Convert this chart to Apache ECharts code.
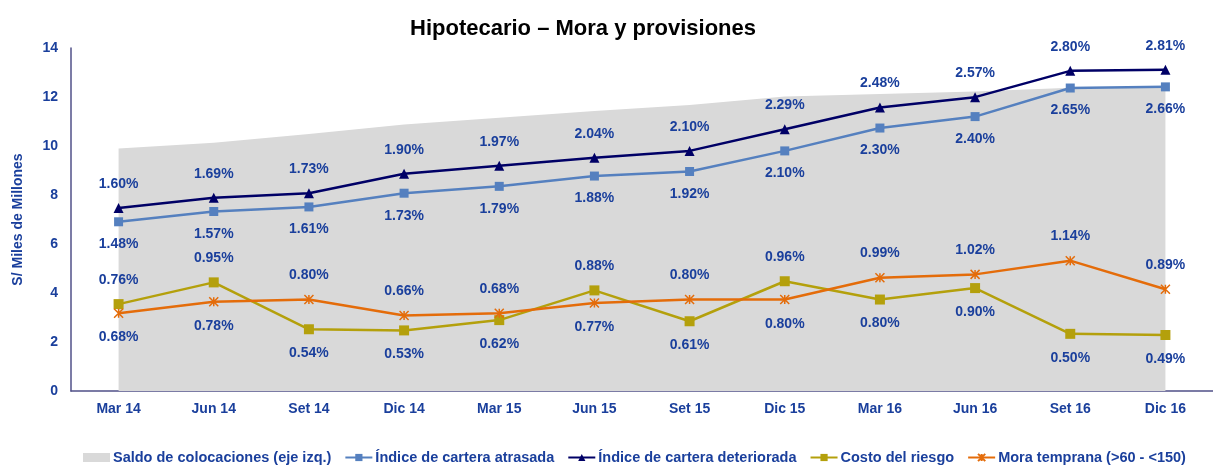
<!DOCTYPE html>
<html>
<head>
<meta charset="utf-8">
<script src="https://cdn.jsdelivr.net/npm/echarts@6/dist/echarts.min.js"></script>
<style>
  html, body { margin: 0; padding: 0; background: #fff; }
  #chart { width: 1213px; height: 466px; }
</style>
</head>
<body>
<div id="chart"></div>
<script>
var categories = ['Mar 14', 'Jun 14', 'Set 14', 'Dic 14', 'Mar 15', 'Jun 15', 'Set 15', 'Dic 15', 'Mar 16', 'Jun 16', 'Set 16', 'Dic 16'];
// S/ miles de millones (eje izq.)
var saldo = [9.9, 10.13, 10.49, 10.88, 11.15, 11.43, 11.67, 12.02, 12.12, 12.22, 12.38, 12.38];
// ratios en %
var atrasada = [1.48, 1.57, 1.61, 1.73, 1.79, 1.88, 1.92, 2.10, 2.30, 2.40, 2.65, 2.66];
var deteriorada = [1.60, 1.69, 1.73, 1.90, 1.97, 2.04, 2.10, 2.29, 2.48, 2.57, 2.80, 2.81];
var costo = [0.76, 0.95, 0.54, 0.53, 0.62, 0.88, 0.61, 0.96, 0.80, 0.90, 0.50, 0.49];
var mora = [0.68, 0.78, 0.80, 0.66, 0.68, 0.77, 0.80, 0.80, 0.99, 1.02, 1.14, 0.89];
var yTicks = [0, 2, 4, 6, 8, 10, 12, 14];

var txt = '#1a3f9c';
var font = 'Liberation Sans, Arial, sans-serif';

function pct(p) { return p.value.toFixed(2) + '%'; }

// el mayor de los dos lleva la etiqueta arriba, el menor abajo
function pairData(vals, other) {
  return vals.map(function (v, i) {
    return { value: v, label: { position: v >= other[i] ? 'top' : 'bottom' } };
  });
}

var labelBase = {
  show: true,
  color: txt,
  fontFamily: font,
  fontWeight: 'bold',
  fontSize: 14,
  formatter: pct
};

(function () {
  var myChart = echarts.init(document.getElementById('chart'));

  var option = {
    animation: false,
    title: {
      text: 'Hipotecario – Mora y provisiones',
      left: 578,
      textAlign: 'center',
      top: 13,
      textStyle: { color: '#000', fontFamily: font, fontWeight: 'bold', fontSize: 22 }
    },
    legend: {
      top: 445,
      left: 78,
      itemWidth: 27,
      itemHeight: 9,
      itemGap: 13,
      textStyle: { color: txt, fontFamily: font, fontWeight: 'bold', fontSize: 14.5, padding: [0, 0, 0, -2] },
      data: [
        { name: 'Saldo de colocaciones (eje izq.)', icon: 'rect' },
        'Índice de cartera atrasada',
        'Índice de cartera deteriorada',
        'Costo del riesgo',
        'Mora temprana (>60 - <150)'
      ]
    },
    grid: {
      left: 71,
      top: 48,
      width: 1150,
      bottom: 75
    },
    xAxis: {
      type: 'category',
      data: categories,
      axisTick: { show: false },
      axisLine: { lineStyle: { color: '#505088', width: 1.5 } },
      axisLabel: { color: txt, fontFamily: font, fontWeight: 'bold', fontSize: 14, margin: 11 }
    },
    yAxis: [
      {
        type: 'value',
        min: yTicks[0],
        max: yTicks[yTicks.length - 1],
        interval: 2,
        name: 'S/ Miles de Millones',
        nameLocation: 'middle',
        nameGap: 46,
        nameTextStyle: { color: txt, fontFamily: font, fontWeight: 'bold', fontSize: 14 },
        axisLine: { show: true, lineStyle: { color: '#505088', width: 1.5 } },
        axisTick: { show: false },
        splitLine: { show: false },
        axisLabel: { color: txt, fontFamily: font, fontWeight: 'bold', fontSize: 14, margin: 13 }
      },
      {
        type: 'value',
        min: 0,
        max: 3,
        show: false,
        splitLine: { show: false }
      }
    ],
    series: [
      {
        name: 'Saldo de colocaciones (eje izq.)',
        type: 'line',
        data: saldo,
        symbol: 'none',
        lineStyle: { width: 0 },
        itemStyle: { color: '#d9d9d9' },
        areaStyle: { color: '#d9d9d9', opacity: 1 },
        z: 1
      },
      {
        name: 'Índice de cartera atrasada',
        type: 'line',
        yAxisIndex: 1,
        data: atrasada,
        symbol: 'rect',
        symbolSize: 9,
        itemStyle: { color: '#5580bf' },
        lineStyle: { width: 2.5, color: '#5580bf' },
        label: Object.assign({}, labelBase, { position: 'bottom', distance: 11 })
      },
      {
        name: 'Índice de cartera deteriorada',
        type: 'line',
        yAxisIndex: 1,
        data: deteriorada,
        symbol: 'triangle',
        symbolSize: 10,
        itemStyle: { color: '#000066' },
        lineStyle: { width: 2.5, color: '#000066' },
        label: Object.assign({}, labelBase, { position: 'top', distance: 12 })
      },
      {
        name: 'Costo del riesgo',
        type: 'line',
        yAxisIndex: 1,
        data: pairData(costo, mora),
        symbol: 'rect',
        symbolSize: 10,
        itemStyle: { color: '#b4a00c' },
        lineStyle: { width: 2.5, color: '#b4a00c' },
        label: Object.assign({}, labelBase, { distance: 12 })
      },
      {
        name: 'Mora temprana (>60 - <150)',
        type: 'line',
        yAxisIndex: 1,
        data: pairData(mora, costo),
        symbol: 'path://M0,0L10,10M10,0L0,10M5,0L5,10',
        symbolSize: 9,
        itemStyle: { color: 'rgba(0,0,0,0)', borderColor: '#e46c0a', borderWidth: 1.5 },
        lineStyle: { width: 2.5, color: '#e46c0a' },
        label: Object.assign({}, labelBase, { distance: 12 })
      }
    ]
  };

  myChart.setOption(option);
})();
</script>
</body>
</html>
